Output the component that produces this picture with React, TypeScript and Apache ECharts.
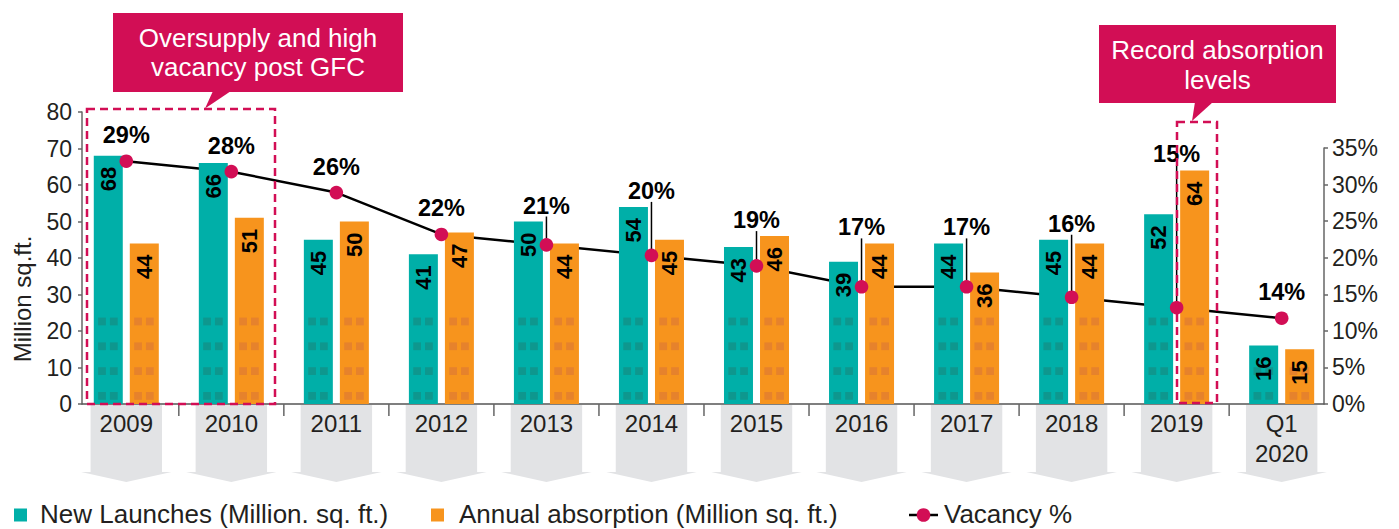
import React, { useEffect, useRef } from 'react';
import * as echarts from 'echarts';

const categories = ['2009', '2010', '2011', '2012', '2013', '2014', '2015', '2016', '2017', '2018', '2019', 'Q1\n2020'];
const newLaunches = [68, 66, 45, 41, 50, 54, 43, 39, 44, 45, 52, 16];
const absorption = [44, 51, 50, 47, 44, 45, 46, 44, 36, 44, 64, 15];
const vacancy = [29, 28, 26, 22, 21, 20, 19, 17, 17, 16, 15, 14];

const LEFT_MAX = 80;
const VAC_MIN = 5.8;
const VAC_MAX = 33.7;

const TEAL = '#00afa8';
const TEAL_WIN = '#0e978e';
const ORANGE = '#f7941d';
const ORANGE_WIN = '#e6822c';
const MAG = '#d20e55';
const TXT = '#231f20';
const FONT = "'Liberation Sans', Arial, sans-serif";

function barRender(side: number, fill: string, winFill: string) {
  return (params: any, api: any) => {
    const i = api.value(0);
    const v = api.value(1);
    const base = api.coord([i, 0]);
    const top = api.coord([i, v]);
    const band = api.size([1, 0])[0];
    const w = band * 0.276;
    const gap = band * 0.067;
    const x0 = side < 0 ? base[0] - gap / 2 - w : base[0] + gap / 2;
    const children: any[] = [
      { type: 'rect', shape: { x: x0, y: top[1], width: w, height: base[1] - top[1] }, style: { fill } },
    ];
    const sq = w * 0.268;
    for (let k = 0; k < 4; k++) {
      const yTop = base[1] - 12 - k * 24.8;
      if (yTop < top[1] + 2) continue;
      [0.15, 0.557].forEach((f) => {
        children.push({
          type: 'rect',
          shape: { x: x0 + w * f, y: yTop, width: sq, height: sq },
          style: { fill: winFill },
        });
      });
    }
    children.push({
      type: 'text',
      x: x0 + w / 2,
      y: top[1] + 11,
      rotation: Math.PI / 2,
      style: {
        text: String(v),
        fill: '#000',
        font: `bold 22px ${FONT}`,
        align: 'right',
        verticalAlign: 'middle',
      },
    });
    return { type: 'group', children };
  };
}

export default function App() {
  const ref = useRef<HTMLDivElement>(null);
  useEffect(() => {
    if (!ref.current) return;
    const chart = echarts.init(ref.current, null, { renderer: 'svg' });
    const idx = categories.map((_, i) => i);
    const option: any = {
      animation: false,
      textStyle: { fontFamily: FONT },
      grid: [
        { left: 82, right: 75, top: 112, bottom: 125 },
        { left: 82, right: 75, top: 148, bottom: 125 },
      ],
      xAxis: [
        {
          type: 'value',
          gridIndex: 0,
          min: -0.4217,
          max: 11.403,
          axisLine: { show: true, onZero: false, lineStyle: { color: '#555', width: 1.5 } },
          axisTick: { show: false },
          axisLabel: { show: false },
          splitLine: { show: false },
        },
        { type: 'value', gridIndex: 1, min: 0, max: 1, show: false },
      ],
      yAxis: [
        {
          type: 'value',
          gridIndex: 0,
          min: 0,
          max: LEFT_MAX,
          interval: 10,
          axisLine: { show: true, onZero: false, lineStyle: { color: '#666', width: 1.5 } },
          axisTick: { show: true, length: 4, lineStyle: { color: '#666', width: 1.5 } },
          axisLabel: { color: TXT, fontSize: 23, margin: 10 },
          splitLine: { show: false },
        },
        {
          type: 'value',
          gridIndex: 1,
          position: 'right',
          min: 0,
          max: 35,
          interval: 5,
          axisLine: { show: true, onZero: false, lineStyle: { color: '#666', width: 1.5 } },
          axisTick: { show: true, length: 4, lineStyle: { color: '#666', width: 1.5 } },
          axisLabel: { color: TXT, fontSize: 23, margin: 8, formatter: '{value}%' },
          splitLine: { show: false },
        },
        { type: 'value', gridIndex: 0, min: VAC_MIN, max: VAC_MAX, show: false },
      ],
      series: [
        {
          type: 'custom',
          name: 'axisBoxes',
          xAxisIndex: 0,
          yAxisIndex: 0,
          clip: false,
          z: 1,
          data: idx.map((i) => [i, 0]),
          renderItem: (params: any, api: any) => {
            const i = api.value(0);
            const c = api.coord([i, 0]);
            const band = api.size([1, 0])[0];
            const hw = band * 0.34;
            const b = c[1];
            const children: any[] = [
              {
                type: 'polygon',
                shape: {
                  points: [
                    [c[0] - hw, b + 1],
                    [c[0] + hw, b + 1],
                    [c[0] + hw, b + 68],
                    [c[0] + hw + 9.5, b + 68],
                    [c[0], b + 78],
                    [c[0] - hw - 9.5, b + 68],
                    [c[0] - hw, b + 68],
                  ],
                },
                style: { fill: '#e2e3e5' },
              },
              {
                type: 'text',
                x: c[0],
                y: b + 4,
                style: {
                  text: categories[params.dataIndex],
                  fill: TXT,
                  font: `24px ${FONT}`,
                  align: 'center',
                  verticalAlign: 'top',
                  lineHeight: 30,
                },
              },
            ];
            if (params.dataIndex < categories.length - 1) {
              children.push({
                type: 'line',
                shape: { x1: c[0] + band / 2, y1: b, x2: c[0] + band / 2, y2: b + 12 },
                style: { stroke: '#666', lineWidth: 1.5 },
              });
            }
            return { type: 'group', children };
          },
        },
        {
          type: 'line',
          name: 'Vacancy %',
          xAxisIndex: 0,
          yAxisIndex: 2,
          z: 2,
          symbol: 'none',
          showSymbol: false,
          lineStyle: { color: '#000', width: 2.5 },
          data: idx.map((i) => [i, vacancy[i]]),
        },
        {
          type: 'custom',
          name: 'New Launches (Million. sq. ft.)',
          xAxisIndex: 0,
          yAxisIndex: 0,
          z: 3,
          clip: false,
          data: idx.map((i) => [i, newLaunches[i]]),
          renderItem: barRender(-1, TEAL, TEAL_WIN),
        },
        {
          type: 'custom',
          name: 'Annual absorption (Million sq. ft.)',
          xAxisIndex: 0,
          yAxisIndex: 0,
          z: 3,
          clip: false,
          data: idx.map((i) => [i, absorption[i]]),
          renderItem: barRender(1, ORANGE, ORANGE_WIN),
        },
        {
          type: 'custom',
          name: 'vacancyMarks',
          xAxisIndex: 0,
          yAxisIndex: 2,
          z: 4,
          clip: false,
          data: idx.map((i) => [i, vacancy[i], Math.max(newLaunches[i], absorption[i])]),
          renderItem: (params: any, api: any) => {
            const i = api.value(0);
            const v = api.value(1);
            const m = api.value(2);
            const p = api.coord([i, v]);
            const base = api.coord([i, VAC_MIN])[1];
            const topY = api.coord([i, VAC_MAX])[1];
            const barTop = base - (m / LEFT_MAX) * (base - topY);
            const labelY = Math.min(p[1] - 26, barTop - 16);
            const children: any[] = [];
            if (p[1] - labelY > 30) {
              children.push({
                type: 'line',
                shape: { x1: p[0], y1: labelY + 11, x2: p[0], y2: p[1] },
                style: { stroke: '#000', lineWidth: 1.5 },
              });
            }
            children.push({
              type: 'circle',
              shape: { cx: p[0], cy: p[1], r: 6.8 },
              style: { fill: MAG },
            });
            children.push({
              type: 'text',
              x: p[0],
              y: labelY,
              style: {
                text: `${v}%`,
                fill: '#000',
                font: `bold 23.5px ${FONT}`,
                align: 'center',
                verticalAlign: 'middle',
              },
            });
            return { type: 'group', children };
          },
        },
      ],
      graphic: [
        {
          type: 'text',
          x: 22,
          y: 299,
          rotation: Math.PI / 2,
          style: {
            text: 'Million sq.ft.',
            fill: TXT,
            font: `24px ${FONT}`,
            align: 'center',
            verticalAlign: 'middle',
          },
        },
        { type: 'rect', z: 10, shape: { x: 113, y: 13, width: 290, height: 79 }, style: { fill: MAG } },
        { type: 'polygon', z: 10, shape: { points: [[213, 91], [231, 91], [205, 108.5]] }, style: { fill: MAG } },
        {
          type: 'text',
          z: 11,
          x: 258,
          y: 52.5,
          style: {
            text: 'Oversupply and high\nvacancy post GFC',
            fill: '#fff',
            font: `26px ${FONT}`,
            align: 'center',
            verticalAlign: 'middle',
            lineHeight: 29,
          },
        },
        {
          type: 'rect',
          z: 10,
          shape: { x: 87, y: 109, width: 188, height: 295 },
          style: { fill: 'none', stroke: MAG, lineWidth: 2.5, lineDash: [8, 5] },
        },
        { type: 'rect', z: 10, shape: { x: 1099, y: 25, width: 237, height: 78 }, style: { fill: MAG } },
        { type: 'polygon', z: 10, shape: { points: [[1195, 102], [1213, 102], [1192, 121]] }, style: { fill: MAG } },
        {
          type: 'text',
          z: 11,
          x: 1217.5,
          y: 65,
          style: {
            text: 'Record absorption\nlevels',
            fill: '#fff',
            font: `26px ${FONT}`,
            align: 'center',
            verticalAlign: 'middle',
            lineHeight: 30,
          },
        },
        {
          type: 'rect',
          z: 10,
          shape: { x: 1177, y: 122, width: 40, height: 281 },
          style: { fill: 'none', stroke: MAG, lineWidth: 2.5, lineDash: [8, 5] },
        },
        { type: 'rect', shape: { x: 14, y: 508.5, width: 13, height: 13 }, style: { fill: TEAL } },
        {
          type: 'text',
          x: 40,
          y: 514,
          style: { text: 'New Launches (Million. sq. ft.)', fill: TXT, font: `26px ${FONT}`, verticalAlign: 'middle' },
        },
        { type: 'rect', shape: { x: 431, y: 508.5, width: 13, height: 13 }, style: { fill: ORANGE } },
        {
          type: 'text',
          x: 459,
          y: 514,
          style: { text: 'Annual absorption (Million sq. ft.)', fill: TXT, font: `26px ${FONT}`, verticalAlign: 'middle' },
        },
        { type: 'line', shape: { x1: 909, y1: 515, x2: 938, y2: 515 }, style: { stroke: '#000', lineWidth: 2.5 } },
        { type: 'circle', shape: { cx: 923.5, cy: 515, r: 6.8 }, style: { fill: MAG } },
        {
          type: 'text',
          x: 944,
          y: 514,
          style: { text: 'Vacancy %', fill: TXT, font: `26px ${FONT}`, verticalAlign: 'middle' },
        },
      ],
    };
    chart.setOption(option);
    return () => chart.dispose();
  }, []);
  return (
    <div
      ref={ref}
      style={{ position: 'absolute', left: 0, top: 0, width: 1399, height: 529, background: '#fff' }}
    />
  );
}
